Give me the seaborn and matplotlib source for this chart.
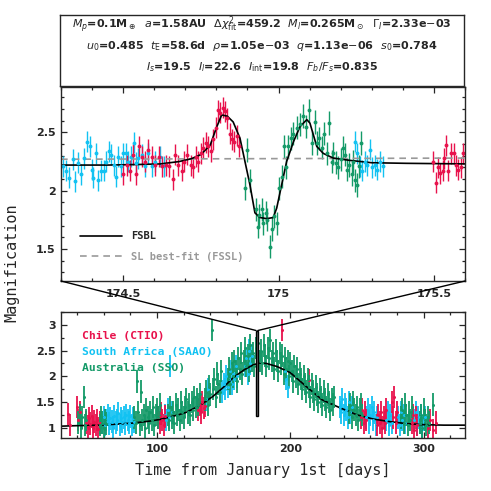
import matplotlib
matplotlib.use('Agg')
import matplotlib.pyplot as plt
import seaborn as sns
import numpy as np
from matplotlib.patches import Rectangle, ConnectionPatch
from matplotlib.ticker import MultipleLocator, FuncFormatter
from matplotlib.lines import Line2D

# ---------------- data: zoom panel (days 174.3 - 175.6) ----------------
zoom_saao_t = [174.306, 174.317, 174.327, 174.338, 174.346, 174.356, 174.364, 174.375, 174.383, 174.392,
               174.399, 174.404, 174.413, 174.420, 174.428, 174.437, 174.445, 174.453, 174.460, 174.469,
               174.477, 174.485, 174.493, 174.501, 174.510, 174.517, 174.525, 174.535, 174.542, 174.549,
               174.560, 174.571, 174.581, 174.592, 174.603, 174.617, 174.630,
               175.246, 175.253, 175.262, 175.270, 175.278, 175.285, 175.294, 175.302, 175.310, 175.318,
               175.326, 175.335]
zoom_saao_A = [2.21, 2.17, 2.11, 2.27, 2.08, 2.24, 2.14, 2.28, 2.42, 2.38,
               2.18, 2.11, 2.32, 2.09, 2.17, 2.17, 2.25, 2.34, 2.31, 2.22,
               2.12, 2.29, 2.21, 2.32, 2.32, 2.25, 2.29, 2.41, 2.24, 2.28,
               2.31, 2.21, 2.32, 2.21, 2.25, 2.29, 2.21,
               2.42, 2.32, 2.21, 2.17, 2.25, 2.22, 2.35, 2.20, 2.22, 2.18,
               2.25, 2.21]
zoom_ctio_t = [174.499, 174.512, 174.522, 174.531, 174.542, 174.552, 174.560, 174.571, 174.581, 174.592,
               174.603, 174.614, 174.624, 174.638, 174.649, 174.660, 174.667, 174.678, 174.689, 174.696,
               174.707, 174.718, 174.726, 174.735, 174.742, 174.750, 174.758, 174.767, 174.774, 174.782,
               174.790, 174.799, 174.806, 174.812, 174.821, 174.828, 174.835, 174.844, 174.849, 174.857,
               174.866, 174.874,
               175.498, 175.506, 175.514, 175.519, 175.528, 175.532, 175.539, 175.546, 175.554, 175.563,
               175.571, 175.579, 175.586, 175.594]
zoom_ctio_A = [2.14, 2.22, 2.17, 2.31, 2.14, 2.38, 2.29, 2.25, 2.35, 2.29,
               2.22, 2.29, 2.21, 2.22, 2.21, 2.10, 2.31, 2.22, 2.17, 2.25,
               2.31, 2.22, 2.20, 2.29, 2.25, 2.32, 2.37, 2.41, 2.38, 2.34,
               2.44, 2.54, 2.69, 2.67, 2.71, 2.68, 2.62, 2.49, 2.44, 2.42,
               2.47, 2.38,
               2.25, 2.07, 2.20, 2.15, 2.17, 2.28, 2.39, 2.17, 2.32, 2.32,
               2.22, 2.18, 2.20, 2.32]
zoom_sso_t = [174.892, 174.897, 174.908, 174.927, 174.935, 174.938, 174.946, 174.951, 174.960, 174.964,
              174.973, 174.978, 174.986, 174.994, 175.003, 175.010, 175.018, 175.024, 175.032, 175.039,
              175.047, 175.058, 175.069, 175.080, 175.089, 175.099, 175.107, 175.117, 175.123, 175.131,
              175.139, 175.146, 175.155, 175.163, 175.171, 175.176, 175.185, 175.192, 175.200, 175.206,
              175.214, 175.219, 175.228, 175.235, 175.240, 175.246, 175.253, 175.260, 175.264]
zoom_sso_A = [2.02, 2.35, 2.09, 1.84, 1.69, 1.79, 1.84, 1.72, 1.81, 1.75,
              1.52, 1.67, 1.78, 1.72, 2.02, 2.12, 2.38, 2.20, 2.38, 2.45,
              2.49, 2.54, 2.57, 2.64, 2.55, 2.69, 2.41, 2.59, 2.41, 2.45,
              2.37, 2.49, 2.32, 2.58, 2.25, 2.32, 2.24, 2.20, 2.27, 2.37,
              2.31, 2.18, 2.22, 2.14, 2.25, 2.09, 2.05, 2.21, 2.41]
zoom_err = {'ctio': 0.09, 'saao': 0.09, 'sso': 0.10}

# FSBL model in zoom panel
fsbl_zoom_t = [174.30, 174.45, 174.55, 174.62, 174.68, 174.72, 174.75, 174.78, 174.80, 174.817,
               174.835, 174.854, 174.876, 174.892, 174.908, 174.924, 174.940, 174.962, 174.983, 174.994,
               175.010, 175.026, 175.048, 175.069, 175.091, 175.101, 175.112, 175.123, 175.144, 175.176,
               175.23, 175.30, 175.41, 175.60]
fsbl_zoom_A = [2.22, 2.22, 2.225, 2.23, 2.25, 2.275, 2.31, 2.39, 2.54, 2.65,
               2.64, 2.59, 2.45, 2.25, 2.05, 1.81, 1.77, 1.76, 1.77, 1.85,
               2.05, 2.25, 2.42, 2.55, 2.61, 2.58, 2.48, 2.38, 2.32, 2.28,
               2.26, 2.24, 2.235, 2.23]
fssl_t = [174.30, 175.60]
fssl_A = [2.27, 2.28]

# ---------------- data: full light curve ----------------
ctio_t = [33, 35, 40, 41, 42, 47, 48, 49, 50, 51, 52, 53, 54, 55, 56, 57,
          101, 102, 103, 104, 105, 106, 131, 132, 133, 134, 135, 136, 194, 214,
          253, 254, 255, 256, 257, 265, 266, 267, 268, 269, 270, 271, 272,
          276, 277, 278, 279, 280, 291, 292, 293, 294, 295, 303, 305, 307, 309]
ctio_A = [1.27, 1.05, 1.40, 1.15, 1.30, 1.10, 1.02, 1.18, 1.08, 1.22, 1.00, 1.12, 1.05, 1.15, 0.98, 1.10,
          1.20, 1.10, 1.28, 1.15, 1.05, 1.22, 1.35, 1.45, 1.30, 1.50, 1.38, 1.42, 2.90, 1.93,
          1.20, 1.35, 1.10, 1.30, 1.15, 1.05, 1.25, 1.10, 1.30, 1.00, 1.20, 1.10, 1.35,
          1.50, 1.20, 1.60, 1.10, 1.30, 1.10, 1.25, 0.95, 1.20, 1.05, 1.00, 1.15, 0.95, 1.10]
saao_t = [59, 60, 61, 62, 63, 64, 65, 66, 67, 68, 69, 70, 71, 72, 73, 74, 75, 76, 77, 78, 79, 80, 81, 82, 83,
          106, 107, 108, 109, 110, 111, 137, 138,
          149, 150, 151, 152, 153, 154, 155, 156, 157, 158, 159, 160,
          166, 167, 168, 169, 170, 171, 196, 197, 198,
          237, 238, 239, 240, 241, 242, 243, 244, 245, 246,
          257, 258, 259, 260, 261, 262, 263, 264, 265,
          272, 273, 274, 275, 276, 281, 282, 283, 284, 285, 286,
          293, 294, 295, 296, 297, 298, 299, 300, 301]
saao_A = [1.10, 1.20, 1.05, 1.15, 1.25, 1.08, 1.18, 1.12, 1.00, 1.22, 1.10, 1.15, 1.28, 1.05, 1.18, 1.12,
          1.20, 1.08, 1.25, 1.15, 1.10, 1.22, 1.05, 1.18, 1.12,
          1.25, 1.15, 1.35, 1.20, 2.20, 1.30, 1.55, 1.75,
          1.70, 1.85, 1.75, 2.00, 1.80, 1.95, 2.10, 1.85, 2.05, 1.95, 2.20, 2.00,
          2.20, 2.35, 2.05, 2.50, 2.25, 2.40, 2.10, 1.95, 1.80,
          1.40, 1.30, 1.55, 1.25, 1.45, 1.35, 1.20, 1.50, 1.30, 1.40,
          1.20, 1.35, 1.10, 1.25, 1.40, 1.15, 1.30, 1.05, 1.20,
          1.15, 1.30, 1.05, 1.25, 1.10, 1.20, 1.05, 1.30, 1.15, 1.25, 1.10,
          1.15, 1.30, 1.05, 1.20, 1.10, 1.25, 1.00, 1.15, 1.20]
sso_t = [41, 42, 43, 44, 45, 46, 47, 57, 58, 59, 60, 61, 62,
         83, 84, 85, 86, 87, 88, 89, 90, 91, 92, 93, 94, 95, 96, 97, 98, 99, 100, 101, 102,
         108, 109, 110, 111, 112, 113, 114, 115, 116, 117, 118, 119, 120, 121, 122, 123, 124, 125,
         126, 127, 128, 129, 130, 131, 132,
         136, 137, 138, 139, 140, 141, 142, 143, 144, 145, 146, 147, 148,
         153, 154, 155, 156, 157, 158, 159, 160, 161, 162, 163, 164, 165, 166, 167, 168, 169, 170,
         171, 172, 173, 174, 175, 176, 177, 178, 179, 180, 181, 182, 183, 184, 185, 186, 187, 188,
         189, 190, 191, 192, 193, 194, 195, 196, 197, 198, 199, 200, 201, 202, 203, 204, 205, 206,
         207, 208, 209, 210, 211, 212, 213, 214, 215, 216, 217, 218, 219, 220, 221, 222, 223, 224,
         225, 226, 227, 228, 229, 230, 231, 232, 233,
         244, 245, 246, 247, 248, 249, 250, 251, 252, 253, 254,
         283, 284, 285, 286, 287, 288, 289, 290, 291,
         297, 298, 299, 300, 301, 302, 303, 304, 307]
sso_A = [1.10, 1.25, 1.00, 1.20, 1.60, 1.05, 1.15, 1.05, 1.20, 1.10, 1.00, 1.15, 1.08,
         1.20, 1.10, 1.90, 1.30, 1.05, 1.70, 1.15, 1.25, 1.00, 1.35, 1.20, 1.10, 1.30, 1.15, 1.40, 1.05,
         1.25, 1.35, 1.20, 1.45,
         1.25, 1.15, 1.40, 1.20, 1.30, 1.10, 1.45, 1.25, 1.35, 1.15, 1.50, 1.30, 1.20, 1.40, 1.55, 1.30,
         1.45, 1.25, 1.50, 1.35, 1.60, 1.40, 1.55, 1.45, 1.65,
         1.55, 1.70, 1.45, 1.80, 1.65, 2.90, 1.75, 1.95, 1.60, 2.05, 1.85, 1.70, 2.10,
         1.95, 2.15, 1.85, 2.25, 2.00, 2.30, 2.10, 1.90, 2.35, 2.15, 2.45, 2.05, 2.30, 2.55, 2.20, 2.40,
         2.10, 2.60, 2.30, 2.45, 2.20, 2.55, 2.35, 2.65, 2.30, 2.50, 2.25, 2.60, 2.40, 2.20, 2.55, 2.35,
         2.70, 2.30, 2.45, 2.15, 2.50, 2.30, 2.10, 2.45, 2.25, 2.40, 2.05, 2.35, 2.15, 2.30, 2.00, 2.25,
         2.10, 1.90, 2.20, 2.00, 2.15, 1.85, 2.05, 1.95, 1.75, 2.00, 1.85, 1.70, 1.95, 1.80, 1.60, 1.85,
         1.70, 1.55, 1.80, 1.65, 1.50, 1.75, 1.60, 1.45, 1.70, 1.55, 1.40, 1.65, 1.50, 1.35, 1.55, 1.45,
         1.60,
         1.30, 1.45, 1.20, 1.50, 1.35, 1.25, 1.40, 1.15, 1.35, 1.45, 1.25,
         1.20, 1.35, 1.10, 1.45, 1.25, 1.05, 1.30, 1.15, 1.40,
         1.10, 1.25, 1.00, 1.35, 1.15, 1.05, 1.20, 1.10, 1.45]
full_err = 0.22

fsbl_full_t = [28, 40, 57, 70, 82, 95, 102, 110, 116, 122, 132, 142, 150, 157, 165, 172, 177, 182,
               190, 200, 212, 224, 237, 250, 262, 274, 287, 299, 315, 331]
fsbl_full_A = [1.03, 1.04, 1.05, 1.07, 1.09, 1.13, 1.16, 1.21, 1.25, 1.30, 1.43, 1.61, 1.79, 1.97,
               2.12, 2.22, 2.26, 2.25, 2.19, 2.07, 1.80, 1.54, 1.39, 1.25, 1.17, 1.12, 1.08, 1.06,
               1.05, 1.05]

site_names = ['Chile (CTIO)', 'South Africa (SAAO)', 'Australia (SSO)']
site_colors = {'ctio': '#E8124C', 'saao': '#12C2F2', 'sso': '#149A68'}

param_lines = [
    r'$M_p$=0.1M$_\oplus$  $a$=1.58AU  $\Delta\chi^2_{\rm fit}$=459.2  $M_l$=0.265M$_\odot$  $\Gamma_I$=2.33e$-$03',
    r'$u_0$=0.485  $t_{\rm E}$=58.6d  $\rho$=1.05e$-$03  $q$=1.13e$-$06  $s_0$=0.784',
    r'$I_s$=19.5  $I_l$=22.6  $I_{\rm int}$=19.8  $F_b/F_s$=0.835',
]

# ---------------- figure ----------------
sns.set_style('ticks')
plt.rcParams['font.family'] = ['DejaVu Sans']
plt.rcParams['mathtext.fontset'] = 'dejavusans'

fig = plt.figure(figsize=(4.91, 4.91), dpi=100)
W = H = 491.0
ax_box = fig.add_axes([60 / W, 1 - 86 / H, 404 / W, 71 / H])
ax_top = fig.add_axes([61 / W, 1 - 281 / H, 404 / W, 194 / H])
ax_bot = fig.add_axes([61 / W, 1 - 438 / H, 404 / W, 126 / H])

# parameter box
ax_box.set_xticks([])
ax_box.set_yticks([])
for s in ax_box.spines.values():
    s.set_linewidth(1.0)
for i, line in enumerate(param_lines):
    ax_box.text(0.5, 0.86 - i * 0.30, line, ha='center', va='center', fontsize=8,
                fontweight='bold', transform=ax_box.transAxes)

fmt_g = FuncFormatter(lambda v, p: '{:g}'.format(round(v, 3)))
mono = 'DejaVu Sans Mono'


def style_axis(ax):
    ax.tick_params(which='both', direction='in', top=True, right=True, width=0.9,
                   labelsize=8, pad=4)
    ax.tick_params(which='major', length=4)
    ax.tick_params(which='minor', length=2.2)
    for lab in ax.get_xticklabels() + ax.get_yticklabels():
        lab.set_fontweight('bold')
    for s in ax.spines.values():
        s.set_linewidth(1.0)
    ax.xaxis.set_major_formatter(fmt_g)
    ax.yaxis.set_major_formatter(fmt_g)


def draw_points(ax, t, a, err, color, ms, elw):
    ax.errorbar(t, a, yerr=err, fmt='o', color=color, ms=ms, elinewidth=elw,
                capsize=0, mew=0)


# zoom panel
draw_points(ax_top, zoom_saao_t, zoom_saao_A, zoom_err['saao'], site_colors['saao'], 2.8, 1.0)
draw_points(ax_top, zoom_ctio_t, zoom_ctio_A, zoom_err['ctio'], site_colors['ctio'], 2.8, 1.0)
draw_points(ax_top, zoom_sso_t, zoom_sso_A, zoom_err['sso'], site_colors['sso'], 2.8, 1.0)
sns.lineplot(x=fssl_t, y=fssl_A, ax=ax_top, color='#999999', lw=1.2,
             estimator=None, sort=False, linestyle=(0, (4, 3)))
sns.lineplot(x=fsbl_zoom_t, y=fsbl_zoom_A, ax=ax_top, color='black', lw=1.2,
             estimator=None, sort=False)
ax_top.set_xlim(174.3, 175.6)
ax_top.set_ylim(1.225, 2.89)
ax_top.xaxis.set_major_locator(MultipleLocator(0.5))
ax_top.xaxis.set_minor_locator(MultipleLocator(0.1))
ax_top.yaxis.set_major_locator(MultipleLocator(0.5))
ax_top.yaxis.set_minor_locator(MultipleLocator(0.1))
style_axis(ax_top)
ax_top.tick_params(axis='x', pad=6)

handles = [Line2D([], [], color='black', lw=1.2),
           Line2D([], [], color='#999999', lw=1.2, linestyle=(0, (4, 3)))]
leg = ax_top.legend(handles, ['FSBL', 'SL best-fit (FSSL)'], loc='lower left',
                    bbox_to_anchor=(0.025, 0.05), frameon=False, handlelength=4.0,
                    handletextpad=0.85, labelspacing=1.0,
                    prop={'family': mono, 'size': 7.5, 'weight': 'bold'})
leg.get_texts()[1].set_color('#999999')

# full light curve panel
draw_points(ax_bot, saao_t, saao_A, full_err, site_colors['saao'], 2.2, 1.3)
draw_points(ax_bot, ctio_t, ctio_A, full_err, site_colors['ctio'], 2.2, 1.3)
draw_points(ax_bot, sso_t, sso_A, full_err, site_colors['sso'], 2.2, 1.3)
sns.lineplot(x=fsbl_full_t, y=fsbl_full_A, ax=ax_bot, color='black', lw=1.2,
             estimator=None, sort=False)
ax_bot.add_patch(Rectangle((174.3, 1.225), 1.3, 2.89 - 1.225, facecolor='#777777',
                           edgecolor='black', lw=1.0, zorder=5))
ax_bot.set_xlim(28, 331)
ax_bot.set_ylim(0.8, 3.25)
ax_bot.xaxis.set_major_locator(MultipleLocator(100))
ax_bot.xaxis.set_minor_locator(MultipleLocator(20))
ax_bot.yaxis.set_major_locator(MultipleLocator(0.5))
ax_bot.yaxis.set_minor_locator(MultipleLocator(0.25))
style_axis(ax_bot)
for ax in (ax_top, ax_bot):
    ax.set_xlabel('')
    ax.set_ylabel('')

for i, (name, key) in enumerate(zip(site_names, ['ctio', 'saao', 'sso'])):
    ax_bot.text(0.052, 0.81 - i * 0.127, name, color=site_colors[key], fontsize=8.2,
                family=mono, fontweight='bold', transform=ax_bot.transAxes, va='center')

# zoom connectors
for xa, xb in [(0, 174.3), (1, 175.6)]:
    con = ConnectionPatch(xyA=(xa, 0), coordsA=ax_top.transAxes,
                          xyB=(xb, 2.89), coordsB=ax_bot.transData,
                          color='black', lw=1.0)
    fig.add_artist(con)

fig.text(263 / W, 1 - 470 / H, 'Time from January 1st [days]', ha='center', va='center',
         fontsize=11, family=mono)
fig.text(12 / W, 1 - 263 / H, 'Magnification', ha='center', va='center', rotation=90,
         fontsize=11, family=mono)

fig.savefig('out.png', dpi=100)
plt.close(fig)
